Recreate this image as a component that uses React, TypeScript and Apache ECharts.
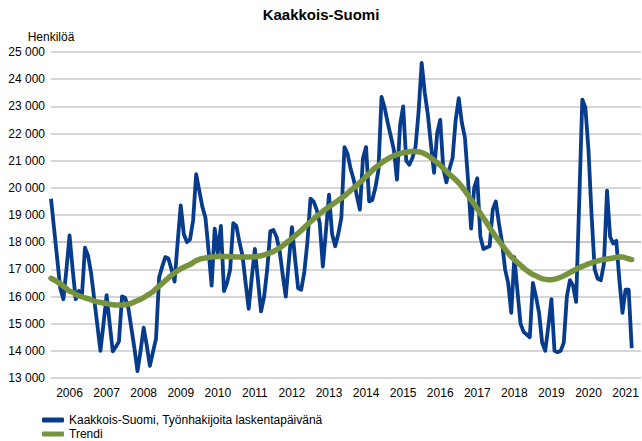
import React, { useEffect, useRef } from "react";
import * as echarts from "echarts";

const startYear = 2006;
const endYear = 2021;
const yMin = 13000;
const yMax = 25000;
const yStep = 1000;

const seriesName = "Kaakkois-Suomi, Työnhakijoita laskentapäivänä";
const trendName = "Trendi";

// Monthly values, Jan 2006 – Sep 2021
const jobseekers = [
  19600, 18500, 17400, 16300, 15900, 17000, 18250, 17000, 15900, 16200, 16000, 17800,
  17500, 16850, 15900, 14950, 14000, 15000, 16050, 15000, 13980, 14150, 14350, 16000,
  15950, 15600, 14850, 14100, 13250, 14000, 14850, 14200, 13450, 13950, 14450, 16700,
  17100, 17450, 17400, 17000, 16550, 18000, 19350, 18300, 18000, 18100, 18800, 20500,
  19900, 19300, 18900, 17700, 16400, 18500, 17600, 18600, 16200, 16500, 17000, 18700,
  18600, 18000, 17500, 16500, 15550, 16700, 17750, 16600, 15450, 16000, 17000, 18400,
  18450, 18200, 17700, 16800, 16000, 17300, 18550, 17400, 16300, 16250, 16900, 18000,
  19600, 19500, 19200, 18700, 17100, 18400, 19750, 18300, 17850, 18300, 18900, 21500,
  21250, 20700, 20300, 19700, 19200, 21100, 21500, 19500, 19550, 20000, 20650, 23350,
  22950, 22400, 21900, 21400, 20300, 22300, 23000, 21000, 20850, 21100, 21500, 22800,
  24600, 23500, 22700, 21600, 20550, 22000, 22500, 20700, 20200, 20700, 21100, 22500,
  23300, 22400, 21850, 20300, 18500, 20000, 20350, 18200, 17750, 17800, 17850, 19200,
  19500, 18700, 18000, 17000, 16500, 15400, 17450, 16200, 15000, 14700, 14600, 14500,
  16500, 16000, 15400, 14300, 14000, 14900, 15900, 14000, 13950, 14000, 14300, 16000,
  16600, 16400, 15800, 19500, 23250, 22950, 21400, 19000, 17000, 16650, 16600, 17200,
  19900, 18200, 17950, 18050, 16600, 15400, 16250, 16250, 14100,
];

const trend = [
  16670, 16610, 16540, 16470, 16380, 16290, 16200, 16150, 16080, 16030, 15990, 15950,
  15920, 15880, 15830, 15800, 15780, 15760, 15740, 15720, 15700, 15690, 15690, 15690,
  15700, 15720, 15750, 15800, 15850, 15900, 15960, 16030, 16100, 16180, 16280, 16380,
  16480, 16580, 16680, 16780, 16870, 16950, 17020, 17080, 17130, 17180, 17250, 17320,
  17370, 17400, 17420, 17440, 17450, 17460, 17470, 17470, 17470, 17470, 17460, 17460,
  17450, 17450, 17450, 17450, 17450, 17450, 17460, 17480, 17500, 17530, 17570, 17610,
  17660, 17720, 17790, 17870, 17960, 18050, 18140, 18230, 18330, 18430, 18540, 18650,
  18750, 18850, 18950, 19040, 19130, 19220, 19300, 19380, 19460, 19540, 19620, 19700,
  19800, 19900, 20000, 20100, 20200, 20300, 20420, 20530, 20640, 20740, 20830, 20920,
  21000, 21070, 21130, 21180, 21220, 21260, 21290, 21310, 21330, 21340, 21340, 21330,
  21300, 21250, 21190, 21110, 21020, 20930, 20830, 20720, 20610, 20500, 20400, 20300,
  20180, 20040, 19890, 19730, 19560, 19400, 19230, 19060, 18890, 18720, 18540, 18370,
  18200, 18050, 17900, 17750, 17600, 17470, 17350, 17250, 17150, 17050, 16960, 16880,
  16810, 16760, 16700, 16660, 16630, 16620, 16620, 16640, 16670, 16710, 16760, 16820,
  16880, 16940, 17000, 17060, 17110, 17150, 17200, 17240, 17280, 17310, 17340, 17360,
  17380, 17400, 17420, 17440, 17450, 17450, 17420, 17390, 17360,
];

const months: string[] = [];
for (let y = startYear; y <= endYear; y++) {
  for (let m = 1; m <= 12; m++) months.push(`${y}-${String(m).padStart(2, "0")}`);
}

const FONT = "'Liberation Sans', Arial, sans-serif";
const fmt = (v: number) => String(v).replace(/\B(?=(\d{3})+(?!\d))/g, " ");

const gridColors: string[] = [];
for (let v = yMin; v <= yMax; v += yStep) gridColors.push(v === 18000 ? "#b3b3b3" : "#c8c8c8");

const legendBase = {
  orient: "horizontal",
  left: 42,
  itemWidth: 22,
  itemHeight: 5,
  itemGap: 4,
  icon: "roundRect",
  padding: 0,
  textStyle: { fontFamily: FONT, fontSize: 12, color: "#000" },
};

export default function App() {
  const ref = useRef<HTMLDivElement>(null);
  useEffect(() => {
    if (!ref.current) return;
    const chart = echarts.init(ref.current, undefined, { renderer: "svg" });
    chart.setOption({
      animation: false,
      backgroundColor: "#ffffff",
      title: {
        text: "Kaakkois-Suomi",
        left: "center",
        top: 7,
        padding: 0,
        textStyle: { fontFamily: FONT, fontSize: 15, fontWeight: "bold", color: "#000" },
      },
      grid: { left: 51, right: 1, top: 52, bottom: 63 },
      legend: [
        { ...legendBase, top: 414, data: [seriesName] },
        { ...legendBase, top: 428, data: [trendName] },
      ],
      xAxis: {
        type: "category",
        data: months,
        boundaryGap: false,
        axisLine: { show: false },
        axisTick: { show: false },
        splitLine: { show: false },
        axisLabel: {
          interval: (index: number) => index % 12 === 6,
          formatter: (v: string) => v.slice(0, 4),
          fontFamily: FONT,
          fontSize: 12,
          color: "#000",
          margin: 9,
        },
      },
      yAxis: {
        type: "value",
        min: yMin,
        max: yMax,
        interval: yStep,
        name: "Henkilöä",
        nameLocation: "end",
        nameGap: 9,
        nameTextStyle: { fontFamily: FONT, fontSize: 12, color: "#000", align: "center" },
        axisLine: { show: false },
        axisTick: { show: false },
        axisLabel: { formatter: fmt, fontFamily: FONT, fontSize: 12, color: "#000", margin: 6 },
        splitLine: { lineStyle: { color: gridColors, width: 1.5 } },
      },
      series: [
        {
          name: seriesName,
          type: "line",
          data: jobseekers,
          showSymbol: false,
          symbol: "none",
          lineStyle: { color: "#073c8c", width: 3.8, join: "round" },
          itemStyle: { color: "#073c8c" },
          z: 2,
        },
        {
          name: trendName,
          type: "line",
          data: trend,
          showSymbol: false,
          symbol: "none",
          smooth: true,
          lineStyle: { color: "#78933e", width: 5.5, cap: "round" },
          itemStyle: { color: "#78933e" },
          z: 3,
        },
      ],
    });
    return () => chart.dispose();
  }, []);
  return (
    <div
      ref={ref}
      style={{ position: "fixed", left: 0, top: 0, width: 642, height: 441 }}
    />
  );
}
